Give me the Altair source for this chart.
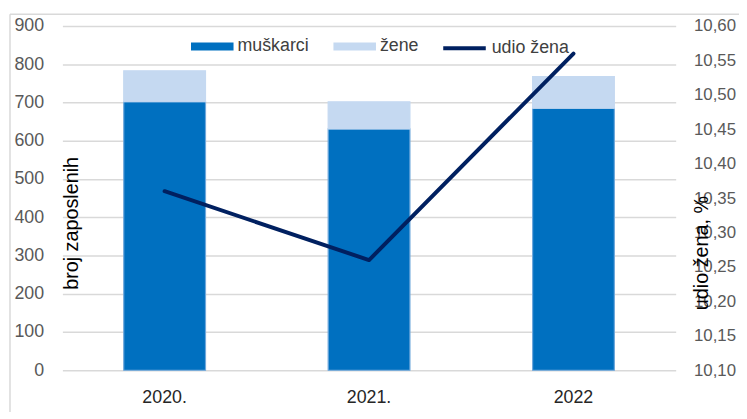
import altair as alt
import pandas as pd

godine = ["2020.", "2021.", "2022"]
muskarci = [702, 631, 685]
zene = [81, 71, 83]
udio = [10.36, 10.26, 10.56]

spolovi = ["muškarci", "žene"]
rows = []
for i, g in enumerate(godine):
    rows.append({"godina": g, "spol": "muškarci", "broj": muskarci[i], "red": 0})
    rows.append({"godina": g, "spol": "žene", "broj": zene[i], "red": 1})
df_bars = pd.DataFrame(rows)
df_line = pd.DataFrame({"godina": godine, "udio": udio, "serija": ["udio žena"] * 3})

FONT = "Liberation Sans"
LBL = "#595959"

xenc = alt.X("godina:N", sort=godine, title=None,
             scale=alt.Scale(paddingInner=0.6, paddingOuter=0.3),
             axis=alt.Axis(labelAngle=0, labelFontSize=18, labelColor="#262626",
                           labelPadding=19, domain=False, ticks=False, grid=False))

bars = alt.Chart(df_bars).mark_bar(strokeWidth=1.2).encode(
    x=xenc,
    y=alt.Y("broj:Q", stack="zero",
            scale=alt.Scale(domain=[0, 900], nice=False),
            axis=alt.Axis(values=list(range(0, 901, 100)), title="broj zaposlenih",
                          titleAngle=-90, titleX=9, titleY=199, titleBaseline="middle",
                          titleAlign="center", titleFontSize=20, titleFontWeight="normal",
                          titleColor="#000000", labelFontSize=18, labelColor=LBL,
                          labelPadding=19, domain=False, ticks=False, grid=True,
                          gridColor="#d9d9d9", gridWidth=1.5)),
    color=alt.Color("spol:N", sort=spolovi,
                    scale=alt.Scale(domain=spolovi, range=["#0070C0", "#C5D9F1"]),
                    legend=alt.Legend(title=None, orient="none", legendX=130, legendY=-1,
                                      direction="horizontal",
                                      symbolType="M-1,-0.19L1,-0.19L1,0.19L-1,0.19Z",
                                      symbolSize=1849, symbolStrokeWidth=0,
                                      labelFontSize=18, labelColor="#404040",
                                      labelOffset=4, columnPadding=24, padding=0)),
    stroke=alt.Stroke("spol:N", scale=alt.Scale(domain=spolovi, range=["#6FA8DC", "#C5D9F1"]),
                      legend=None),
    order=alt.Order("red:Q"),
)

line = alt.Chart(df_line).mark_line(strokeWidth=4, strokeCap="round", strokeJoin="round").encode(
    x=alt.X("godina:N", sort=godine),
    y=alt.Y("udio:Q", scale=alt.Scale(domain=[10.10, 10.60], nice=False, zero=False),
            axis=alt.Axis(orient="right",
                          values=[10.10, 10.15, 10.20, 10.25, 10.30, 10.35, 10.40, 10.45, 10.50, 10.55, 10.60],
                          labelExpr="replace(format(datum.value, '.2f'), '.', ',')",
                          title="udio žena, %", titleAngle=-90, titleX=26, titleY=229,
                          titleBaseline="middle", titleAlign="center", titleFontSize=20,
                          titleFontWeight="normal", titleColor="#000000",
                          labelFontSize=17, labelColor=LBL, labelPadding=18,
                          domain=False, ticks=False, grid=False)),
    color=alt.Color("serija:N", scale=alt.Scale(domain=["udio žena"], range=["#002060"]),
                    legend=alt.Legend(title=None, orient="none", legendX=383, legendY=-1,
                                      symbolType="stroke", symbolSize=1849,
                                      symbolStrokeWidth=4, labelFontSize=18,
                                      labelColor="#404040", labelOffset=4, padding=0)),
)

border_top = alt.Chart(pd.DataFrame({"a": [0]})).mark_rule(color="#d9d9d9", strokeWidth=1.5).encode(
    x=alt.value(-53), x2=alt.value(690), y=alt.value(-12))
border_left = alt.Chart(pd.DataFrame({"a": [0]})).mark_rule(color="#d9d9d9", strokeWidth=1.5).encode(
    x=alt.value(-53), y=alt.value(-12), y2=alt.value(400))

chart = alt.layer(bars, line, border_top, border_left).resolve_scale(
    y="independent", color="independent", stroke="independent"
).properties(
    width=620, height=348,
    autosize=alt.AutoSizeParams(type="none"),
    padding={"left": 55, "top": 16, "right": 64, "bottom": 40},
).configure(font=FONT).configure_view(stroke=None)

chart.save("out.html", embed_options={"renderer": "svg", "actions": False})
